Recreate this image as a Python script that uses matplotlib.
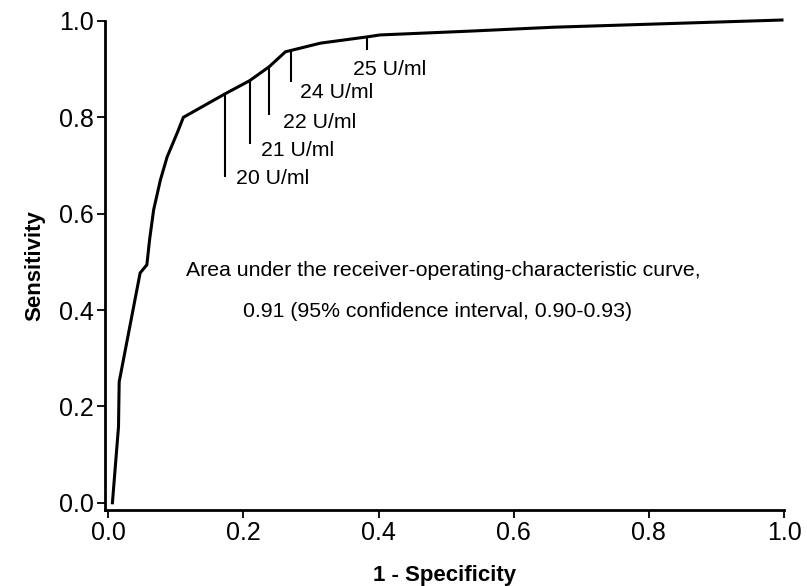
import matplotlib.pyplot as plt

# ROC curve points (1 - specificity, sensitivity)
fpr = [0.006, 0.015, 0.016, 0.047, 0.057, 0.061, 0.067, 0.077, 0.087, 0.102, 0.111,
       0.173, 0.209, 0.238, 0.262, 0.314, 0.383, 0.402, 0.536, 0.658, 0.997]
tpr = [0.000, 0.158, 0.251, 0.477, 0.494, 0.546, 0.608, 0.670, 0.718, 0.768, 0.800,
       0.849, 0.876, 0.905, 0.936, 0.954, 0.967, 0.971, 0.979, 0.987, 1.002]

# cut-off markers
cut_labels = ["20 U/ml", "21 U/ml", "22 U/ml", "24 U/ml", "25 U/ml"]
cut_x = [0.173, 0.209, 0.238, 0.271, 0.383]
cut_top = [0.849, 0.876, 0.905, 0.937, 0.967]
cut_bottom = [0.676, 0.745, 0.805, 0.873, 0.940]
label_x = [0.189, 0.226, 0.259, 0.283, 0.362]
label_y = [0.674, 0.732, 0.790, 0.851, 0.900]

tick_vals = [0.0, 0.2, 0.4, 0.6, 0.8, 1.0]
tick_labels = ["0.0", "0.2", "0.4", "0.6", "0.8", "1.0"]

plt.rcParams['font.family'] = ['Liberation Sans', 'DejaVu Sans']

fig = plt.figure(figsize=(8.07, 5.86), dpi=100)
ax = fig.add_axes([0.1301, 0.1297, 0.8414, 0.8345])

ax.plot(fpr, tpr, color='black', lw=2.2, clip_on=False, solid_joinstyle='miter')
ax.vlines(cut_x, cut_bottom, cut_top, color='black', lw=1.5)
for lab, lx, ly in zip(cut_labels, label_x, label_y):
    ax.text(lx, ly, lab, fontsize=15.3, va='center', ha='left')

ax.text(0.496, 0.483, "Area under the receiver-operating-characteristic curve,",
        fontsize=15.3, ha='center', va='center')
ax.text(0.487, 0.398, "0.91 (95% confidence interval, 0.90-0.93)",
        fontsize=15.3, ha='center', va='center')

ax.set_xlim(-0.005, 1.0)
ax.set_ylim(-0.015, 1.0)
ax.set_xticks(tick_vals)
ax.set_yticks(tick_vals)
ax.set_xticklabels(tick_labels)
ax.set_yticklabels(tick_labels)
for s in ['top', 'right']:
    ax.spines[s].set_visible(False)
for s in ['left', 'bottom']:
    ax.spines[s].set_linewidth(2)
ax.tick_params(direction='out', length=6, width=1.3, labelsize=18, pad=2)

ax.set_xlabel("1 - Specificity", fontsize=16, fontweight='bold', labelpad=14)
ax.set_ylabel("Sensitivity", fontsize=16, fontweight='bold', labelpad=10)

fig.savefig("out.png", dpi=100)
